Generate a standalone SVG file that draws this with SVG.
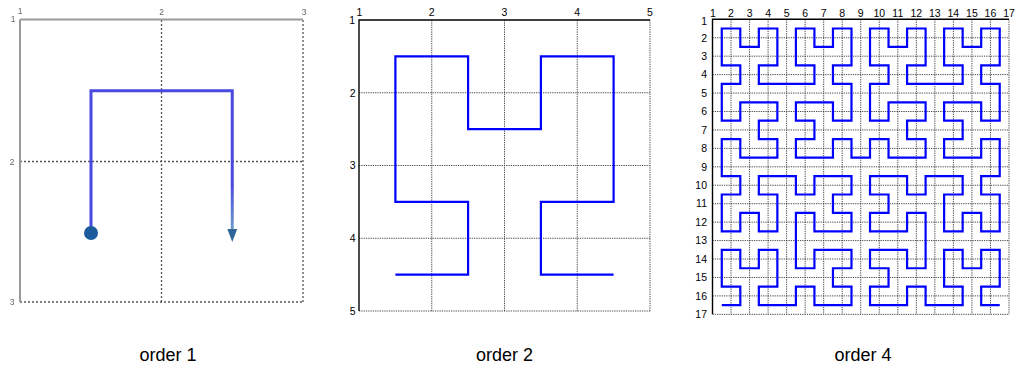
<svg xmlns="http://www.w3.org/2000/svg" width="1016" height="369" viewBox="0 0 1016 369">
<defs>
<style>
.lbl{font-family:"Liberation Sans",Arial,sans-serif;font-size:10.5px;fill:#000}
.top{text-anchor:middle}
.left{text-anchor:end}
.cap{font-family:"Liberation Sans",Arial,sans-serif;font-size:18px;fill:#000;text-anchor:middle}
.grid{stroke:#3a3a3a;stroke-width:0.9;stroke-dasharray:1.3 1;fill:none}
.axis{stroke:#000;stroke-width:1.4;fill:none}
.curve{stroke:#0000ff;stroke-width:2.2;fill:none;stroke-linejoin:miter}
.p1lbl{font-family:"Liberation Sans",Arial,sans-serif;font-size:8.5px;fill:#666;text-anchor:middle}
.p1grid{stroke:#555;stroke-width:1.3;stroke-dasharray:2 2;fill:none}
</style>
<linearGradient id="fade" x1="0" y1="185" x2="0" y2="229" gradientUnits="userSpaceOnUse">
<stop offset="0" stop-color="#4a4ae0"/>
<stop offset="1" stop-color="#6e9ccc"/>
</linearGradient>
<filter id="soft" x="-5%" y="-5%" width="110%" height="110%"><feGaussianBlur stdDeviation="0.5"/></filter>
</defs>
<rect width="1016" height="369" fill="#fff"/>

<g id="order1" filter="url(#soft)">
<line class="p1grid" x1="161.5" y1="20" x2="161.5" y2="302"/>
<line class="p1grid" x1="20" y1="161.5" x2="303" y2="161.5"/>
<line class="p1grid" x1="303" y1="20" x2="303" y2="302"/>
<line class="p1grid" x1="20" y1="302" x2="303" y2="302"/>
<line stroke="#999" stroke-width="2" x1="20" y1="19.5" x2="303" y2="19.5"/>
<line stroke="#999" stroke-width="2" x1="20" y1="19.5" x2="20" y2="302"/>
<text class="p1lbl" x="20" y="14">1</text>
<text class="p1lbl" x="161.5" y="15">2</text>
<text class="p1lbl" x="304" y="15">3</text>
<text class="p1lbl" x="13" y="22">1</text>
<text class="p1lbl" x="12" y="165">2</text>
<text class="p1lbl" x="12" y="305">3</text>
<path d="M91 233 V90.75 H232.25 V186" stroke="#4a4ae0" stroke-width="3" fill="none"/>
<line x1="232.25" y1="185" x2="232.25" y2="230" stroke="url(#fade)" stroke-width="3"/>
<polygon points="227.3,229 237.2,229 232.25,242" fill="#2e6699"/>
<circle cx="91" cy="233" r="7" fill="#1d5c9c"/>
</g>

<g id="order2">
<g class="grid">
<line x1="431.75" y1="20" x2="431.75" y2="311"/>
<line x1="504.5" y1="20" x2="504.5" y2="311"/>
<line x1="577.25" y1="20" x2="577.25" y2="311"/>
<line x1="650" y1="20" x2="650" y2="311"/>
<line x1="359" y1="92.75" x2="650" y2="92.75"/>
<line x1="359" y1="165.5" x2="650" y2="165.5"/>
<line x1="359" y1="238.25" x2="650" y2="238.25"/>
<line x1="359" y1="311" x2="650" y2="311"/>
</g>
<path class="axis" d="M359 311 V20 H650"/>
<text class="lbl top" x="359.5" y="16">1</text>
<text class="lbl top" x="431.75" y="16">2</text>
<text class="lbl top" x="504.5" y="16">3</text>
<text class="lbl top" x="577.25" y="16">4</text>
<text class="lbl top" x="650" y="16">5</text>
<text class="lbl left" x="355" y="24">1</text>
<text class="lbl left" x="355.5" y="96.5">2</text>
<text class="lbl left" x="355.5" y="169.2">3</text>
<text class="lbl left" x="355.5" y="242">4</text>
<text class="lbl left" x="355.5" y="314.7">5</text>
<path class="curve" d="M395.4 274.6 H468.1 V201.9 H395.4 V56.4 H468.1 V129.1 H540.9 V56.4 H613.6 V201.9 H540.9 V274.6 H613.6"/>
</g>

<g id="order4">
<g class="grid">
<line x1="731.03" y1="19.3" x2="731.03" y2="314.34"/>
<line x1="749.56" y1="19.3" x2="749.56" y2="314.34"/>
<line x1="768.09" y1="19.3" x2="768.09" y2="314.34"/>
<line x1="786.62" y1="19.3" x2="786.62" y2="314.34"/>
<line x1="805.15" y1="19.3" x2="805.15" y2="314.34"/>
<line x1="823.68" y1="19.3" x2="823.68" y2="314.34"/>
<line x1="842.21" y1="19.3" x2="842.21" y2="314.34"/>
<line x1="860.74" y1="19.3" x2="860.74" y2="314.34"/>
<line x1="879.27" y1="19.3" x2="879.27" y2="314.34"/>
<line x1="897.8" y1="19.3" x2="897.8" y2="314.34"/>
<line x1="916.33" y1="19.3" x2="916.33" y2="314.34"/>
<line x1="934.86" y1="19.3" x2="934.86" y2="314.34"/>
<line x1="953.39" y1="19.3" x2="953.39" y2="314.34"/>
<line x1="971.92" y1="19.3" x2="971.92" y2="314.34"/>
<line x1="990.45" y1="19.3" x2="990.45" y2="314.34"/>
<line x1="1008.98" y1="19.3" x2="1008.98" y2="314.34"/>
<line x1="712.5" y1="37.74" x2="1008.98" y2="37.74"/>
<line x1="712.5" y1="56.18" x2="1008.98" y2="56.18"/>
<line x1="712.5" y1="74.62" x2="1008.98" y2="74.62"/>
<line x1="712.5" y1="93.06" x2="1008.98" y2="93.06"/>
<line x1="712.5" y1="111.5" x2="1008.98" y2="111.5"/>
<line x1="712.5" y1="129.94" x2="1008.98" y2="129.94"/>
<line x1="712.5" y1="148.38" x2="1008.98" y2="148.38"/>
<line x1="712.5" y1="166.82" x2="1008.98" y2="166.82"/>
<line x1="712.5" y1="185.26" x2="1008.98" y2="185.26"/>
<line x1="712.5" y1="203.7" x2="1008.98" y2="203.7"/>
<line x1="712.5" y1="222.14" x2="1008.98" y2="222.14"/>
<line x1="712.5" y1="240.58" x2="1008.98" y2="240.58"/>
<line x1="712.5" y1="259.02" x2="1008.98" y2="259.02"/>
<line x1="712.5" y1="277.46" x2="1008.98" y2="277.46"/>
<line x1="712.5" y1="295.9" x2="1008.98" y2="295.9"/>
<line x1="712.5" y1="314.34" x2="1008.98" y2="314.34"/>
</g>
<path class="axis" d="M712.5 314.34 V19.3 H1008.98"/>
<g class="lbl top">
<text x="712.8" y="17.3">1</text>
<text x="731.03" y="17.3">2</text>
<text x="749.56" y="17.3">3</text>
<text x="768.09" y="17.3">4</text>
<text x="786.62" y="17.3">5</text>
<text x="805.15" y="17.3">6</text>
<text x="823.68" y="17.3">7</text>
<text x="842.21" y="17.3">8</text>
<text x="860.74" y="17.3">9</text>
<text x="879.27" y="17.3">10</text>
<text x="897.8" y="17.3">11</text>
<text x="916.33" y="17.3">12</text>
<text x="934.86" y="17.3">13</text>
<text x="953.39" y="17.3">14</text>
<text x="971.92" y="17.3">15</text>
<text x="990.45" y="17.3">16</text>
<text x="1008.98" y="17.3">17</text>
</g>
<g class="lbl left">
<text x="707" y="24.5">1</text>
<text x="707" y="41.5">2</text>
<text x="707" y="59.9">3</text>
<text x="707" y="78.4">4</text>
<text x="707" y="96.8">5</text>
<text x="707" y="115.2">6</text>
<text x="707" y="133.7">7</text>
<text x="707" y="152.1">8</text>
<text x="707" y="170.5">9</text>
<text x="707" y="189">10</text>
<text x="707" y="207.4">11</text>
<text x="707" y="225.9">12</text>
<text x="707" y="244.3">13</text>
<text x="707" y="262.7">14</text>
<text x="707" y="281.2">15</text>
<text x="707" y="299.6">16</text>
<text x="707" y="318">17</text>
</g>
<path class="curve" vector-effect="non-scaling-stroke" transform="translate(721.77 28.52) scale(18.53 18.44)" d="M0 15 L1 15 1 14 0 14 0 13 0 12 1 12 1 13 2 13 2 12 3 12 3 13 3 14 2 14 2 15 3 15 4 15 4 14 5 14 5 15 6 15 7 15 7 14 6 14 6 13 7 13 7 12 6 12 5 12 5 13 4 13 4 12 4 11 4 10 5 10 5 11 6 11 7 11 7 10 6 10 6 9 7 9 7 8 6 8 5 8 5 9 4 9 4 8 3 8 2 8 2 9 3 9 3 10 3 11 2 11 2 10 1 10 1 11 0 11 0 10 0 9 1 9 1 8 0 8 0 7 0 6 1 6 1 7 2 7 3 7 3 6 2 6 2 5 3 5 3 4 2 4 1 4 1 5 0 5 0 4 0 3 1 3 1 2 0 2 0 1 0 0 1 0 1 1 2 1 2 0 3 0 3 1 3 2 2 2 2 3 3 3 4 3 5 3 5 2 4 2 4 1 4 0 5 0 5 1 6 1 6 0 7 0 7 1 7 2 6 2 6 3 7 3 7 4 7 5 6 5 6 4 5 4 4 4 4 5 5 5 5 6 4 6 4 7 5 7 6 7 6 6 7 6 7 7 8 7 8 6 9 6 9 7 10 7 11 7 11 6 10 6 10 5 11 5 11 4 10 4 9 4 9 5 8 5 8 4 8 3 9 3 9 2 8 2 8 1 8 0 9 0 9 1 10 1 10 0 11 0 11 1 11 2 10 2 10 3 11 3 12 3 13 3 13 2 12 2 12 1 12 0 13 0 13 1 14 1 14 0 15 0 15 1 15 2 14 2 14 3 15 3 15 4 15 5 14 5 14 4 13 4 12 4 12 5 13 5 13 6 12 6 12 7 13 7 14 7 14 6 15 6 15 7 15 8 14 8 14 9 15 9 15 10 15 11 14 11 14 10 13 10 13 11 12 11 12 10 12 9 13 9 13 8 12 8 11 8 11 9 10 9 10 8 9 8 8 8 8 9 9 9 9 10 8 10 8 11 9 11 10 11 10 10 11 10 11 11 11 12 11 13 10 13 10 12 9 12 8 12 8 13 9 13 9 14 8 14 8 15 9 15 10 15 10 14 11 14 11 15 12 15 13 15 13 14 12 14 12 13 12 12 13 12 13 13 14 13 14 12 15 12 15 13 15 14 14 14 14 15 15 15"/>
</g>

<g id="captions">
<text class="cap" x="168" y="361">order 1</text>
<text class="cap" x="504.5" y="361">order 2</text>
<text class="cap" x="863" y="361">order 4</text>
</g>
</svg>
